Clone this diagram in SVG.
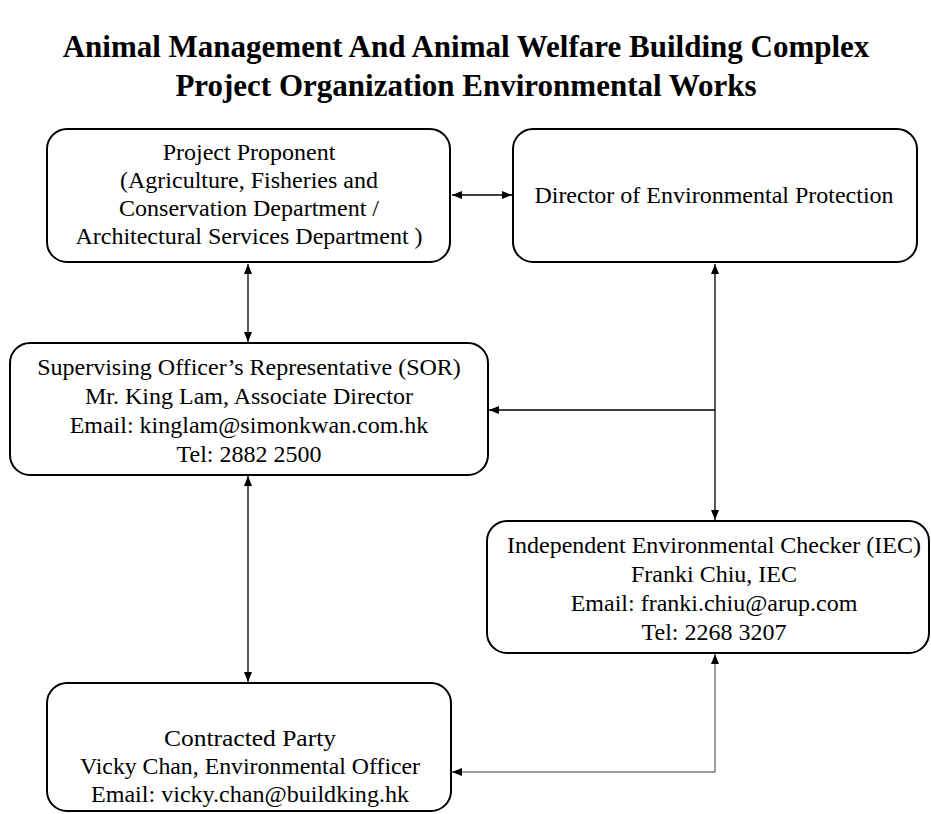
<svg xmlns="http://www.w3.org/2000/svg" width="931" height="814" viewBox="0 0 931 814">
<style>
.box{fill:#fff;stroke:#000;stroke-width:2}
.t{font-family:"Liberation Serif","Times New Roman",serif;font-size:24px;fill:#000;text-anchor:middle}
.t2{font-family:"Liberation Serif","Times New Roman",serif;font-size:24px;fill:#000;text-anchor:middle}
.title{font-family:"Liberation Serif","Times New Roman",serif;font-size:31px;font-weight:bold;fill:#000;text-anchor:middle}
.c{fill:none;stroke:#000;stroke-width:1.3}
.g{fill:none;stroke:#808080;stroke-width:1.5}
</style>
<defs>
<marker id="ah" viewBox="0 0 10 10" refX="10" refY="5" markerWidth="10" markerHeight="10" markerUnits="userSpaceOnUse" orient="auto-start-reverse">
<path d="M0,1 L10,5 L0,9 Z" fill="#000"/>
</marker>
</defs>
<rect width="931" height="814" fill="#fff"/>
<g id="title">
<text class="title" x="466" y="57">Animal Management And Animal Welfare Building Complex</text>
<text class="title" x="466" y="96">Project Organization Environmental Works</text>
</g>
<g id="connectors">
<line class="c" x1="452" y1="195" x2="512" y2="195" marker-start="url(#ah)" marker-end="url(#ah)"/>
<line class="c" x1="248" y1="264" x2="248" y2="342" marker-start="url(#ah)" marker-end="url(#ah)"/>
<line class="c" x1="715" y1="264" x2="715" y2="520" marker-start="url(#ah)" marker-end="url(#ah)"/>
<line class="c" x1="715" y1="410" x2="489" y2="410" marker-end="url(#ah)"/>
<line class="c" x1="248" y1="476" x2="248" y2="682" marker-start="url(#ah)" marker-end="url(#ah)"/>
<path class="g" d="M715,654 L715,772 L452,772" marker-start="url(#ah)" marker-end="url(#ah)"/>
</g>
<g id="proponent">
<rect class="box" x="47" y="129" width="403" height="133" rx="20"/>
<text class="t" x="249" y="160">Project Proponent</text>
<text class="t" x="249" y="188">(Agriculture, Fisheries and</text>
<text class="t" x="249" y="216">Conservation Department /</text>
<text class="t" x="249" y="244">Architectural Services Department )</text>
</g>
<g id="director">
<rect class="box" x="513" y="129" width="404" height="133" rx="20"/>
<text class="t" x="714" y="203">Director of Environmental Protection</text>
</g>
<g id="sor">
<rect class="box" x="10" y="343" width="478" height="132" rx="20"/>
<text class="t" x="249" y="375">Supervising Officer’s Representative (SOR)</text>
<text class="t" x="249" y="404">Mr. King Lam, Associate Director</text>
<text class="t" x="249" y="433">Email: kinglam@simonkwan.com.hk</text>
<text class="t" x="249" y="462">Tel: 2882 2500</text>
</g>
<g id="iec">
<rect class="box" x="487" y="521" width="442" height="132" rx="20"/>
<text class="t" x="714" y="553">Independent Environmental Checker (IEC)</text>
<text class="t" x="714" y="582">Franki Chiu, IEC</text>
<text class="t" x="714" y="611">Email: franki.chiu@arup.com</text>
<text class="t" x="714" y="640">Tel: 2268 3207</text>
</g>
<g id="contractor">
<rect class="box" x="47" y="683" width="404" height="128" rx="20"/>
<text class="t2" x="250" y="746" textLength="172" lengthAdjust="spacingAndGlyphs">Contracted Party</text>
<text class="t2" x="250" y="774" textLength="340" lengthAdjust="spacingAndGlyphs">Vicky Chan, Environmental Officer</text>
<text class="t2" x="250" y="802" textLength="318" lengthAdjust="spacingAndGlyphs">Email: vicky.chan@buildking.hk</text>
</g>
</svg>
